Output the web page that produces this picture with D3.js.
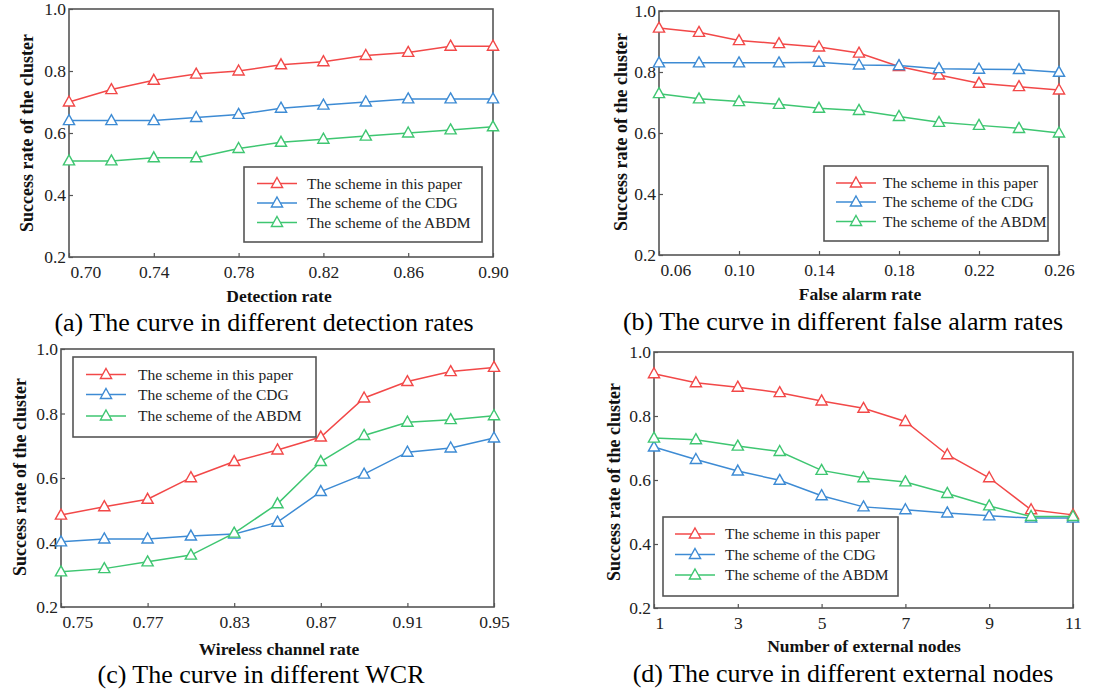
<!DOCTYPE html>
<html lang="en">
<head>
<meta charset="UTF-8">
<title>Success rate of the cluster</title>
<script src="https://cdn.jsdelivr.net/npm/d3@7"></script>
<style>
  body { margin: 0; background: #fff; }
  svg, svg text { font-family: "Liberation Serif", "Times New Roman", serif; }
</style>
</head>
<body>
<div id="chart"></div>
<script>
// series names
const seriesNames = ["The scheme in this paper", "The scheme of the CDG", "The scheme of the ABDM"];
const seriesColors = ["#f24848", "#3d8bd4", "#3ec671"];

// (a) detection rate
const xA = [0.70, 0.72, 0.74, 0.76, 0.78, 0.80, 0.82, 0.84, 0.86, 0.88, 0.90];
const redA = [0.70, 0.74, 0.77, 0.79, 0.80, 0.82, 0.83, 0.85, 0.86, 0.88, 0.88];
const blueA = [0.64, 0.64, 0.64, 0.65, 0.66, 0.68, 0.69, 0.70, 0.71, 0.71, 0.71];
const greenA = [0.51, 0.51, 0.52, 0.52, 0.55, 0.57, 0.58, 0.59, 0.60, 0.61, 0.62];
const ticksA = [0.70, 0.74, 0.78, 0.82, 0.86, 0.90];

// (b) false alarm rate
const xB = [0.06, 0.08, 0.10, 0.12, 0.14, 0.16, 0.18, 0.20, 0.22, 0.24, 0.26];
const redB = [0.944, 0.93, 0.903, 0.893, 0.882, 0.862, 0.818, 0.79, 0.763, 0.752, 0.741];
const blueB = [0.83, 0.83, 0.83, 0.83, 0.832, 0.823, 0.821, 0.811, 0.809, 0.808, 0.799];
const greenB = [0.729, 0.712, 0.703, 0.694, 0.681, 0.674, 0.654, 0.635, 0.625, 0.615, 0.60];
const ticksB = [0.06, 0.10, 0.14, 0.18, 0.22, 0.26];

// (c) wireless channel rate (evenly spaced categories)
const xC = d3.range(11);
const redC = [0.485, 0.511, 0.534, 0.601, 0.651, 0.687, 0.727, 0.848, 0.899, 0.930, 0.943];
const blueC = [0.402, 0.411, 0.411, 0.420, 0.426, 0.463, 0.558, 0.612, 0.680, 0.693, 0.724];
const greenC = [0.309, 0.319, 0.340, 0.361, 0.429, 0.520, 0.651, 0.732, 0.773, 0.781, 0.793];
const ticksC = [0, 2, 4, 6, 8, 10];
const tickLabelsC = ["0.75", "0.77", "0.83", "0.87", "0.91", "0.95"];

// (d) number of external nodes
const xD = [1, 2, 3, 4, 5, 6, 7, 8, 9, 10, 11];
const redD = [0.932, 0.904, 0.890, 0.873, 0.847, 0.824, 0.783, 0.679, 0.607, 0.507, 0.491];
const blueD = [0.703, 0.664, 0.628, 0.599, 0.551, 0.516, 0.507, 0.497, 0.488, 0.481, 0.481];
const greenD = [0.731, 0.726, 0.706, 0.689, 0.630, 0.607, 0.594, 0.558, 0.519, 0.486, 0.486];
const ticksD = [1, 3, 5, 7, 9, 11];

const yTicks = [0.2, 0.4, 0.6, 0.8, 1.0];

const panels = [
  { x: xA, ys: [redA, blueA, greenA], ticks: ticksA, fmt: d3.format(".2f"), domain: [0.70, 0.90],
    box: {l: 69, r: 493, t: 9, b: 257},
    xTitle: "Detection rate", xTitlePos: [279, 302], yTitlePos: [33, 133],
    caption: "(a) The curve in different detection rates", capPos: [264, 331],
    legend: {x: 244, y: 167, w: 238, h: 75, lineX: 257, textX: 307, rows: [183.5, 203, 222.5]} },
  { x: xB, ys: [redB, blueB, greenB], ticks: ticksB, fmt: d3.format(".2f"), domain: [0.06, 0.26],
    box: {l: 659, r: 1059, t: 11, b: 255},
    xTitle: "False alarm rate", xTitlePos: [860, 300], yTitlePos: [627, 132],
    caption: "(b) The curve in different false alarm rates", capPos: [843, 330],
    legend: {x: 824, y: 166, w: 224, h: 75, lineX: 836, textX: 883, rows: [183, 202, 221.5]} },
  { x: xC, ys: [redC, blueC, greenC], ticks: ticksC, fmt: i => tickLabelsC[ticksC.indexOf(i)], domain: [0, 10],
    box: {l: 61, r: 494, t: 349, b: 607},
    xTitle: "Wireless channel rate", xTitlePos: [279, 655], yTitlePos: [26, 477],
    caption: "(c) The curve in different WCR", capPos: [261, 683],
    legend: {x: 73, y: 357, w: 243, h: 80, lineX: 86, textX: 138, rows: [374.5, 394.5, 416]} },
  { x: xD, ys: [redD, blueD, greenD], ticks: ticksD, fmt: d3.format("d"), domain: [1, 11],
    box: {l: 654, r: 1073, t: 352, b: 608},
    xTitle: "Number of external nodes", xTitlePos: [864, 652], yTitlePos: [620, 482],
    caption: "(d) The curve in different external nodes", capPos: [843, 682],
    legend: {x: 663, y: 517, w: 235, h: 79, lineX: 675, textX: 725, rows: [534, 554.5, 575]} }
];

const width = 1104, height = 689;
const frameColor = "#555";
const triangle = "M0,-6L5.6,4L-5.6,4Z";

const svg = d3.select("#chart").append("svg")
  .attr("width", width).attr("height", height);

panels.forEach(function(p) {
  const b = p.box;
  const xScale = d3.scaleLinear().domain(p.domain).range([b.l, b.r]);
  const yScale = d3.scaleLinear().domain([0.2, 1.0]).range([b.b, b.t]);
  const g = svg.append("g");

  // axes with inward ticks
  const xAxis = g.append("g")
    .attr("transform", "translate(0," + b.b + ")")
    .call(d3.axisBottom(xScale).tickValues(p.ticks).tickFormat(p.fmt)
      .tickSizeInner(-4).tickSizeOuter(0).tickPadding(9));
  xAxis.selectAll(".tick text").filter((d, i) => i === 0).attr("text-anchor", "start").attr("x", 1);

  const yAxis = g.append("g")
    .attr("transform", "translate(" + b.l + ",0)")
    .call(d3.axisLeft(yScale).tickValues(yTicks).tickFormat(d3.format(".1f"))
      .tickSizeInner(-4).tickSizeOuter(0).tickPadding(3));

  [xAxis, yAxis].forEach(function(ax) {
    ax.attr("font-family", null).attr("font-size", null);
    ax.select(".domain").remove();
    ax.selectAll(".tick line").attr("stroke", frameColor).attr("stroke-width", 1.2);
    ax.selectAll(".tick text").attr("fill", "#222").style("font-size", "17.5px");
  });

  g.append("rect")
    .attr("x", b.l).attr("y", b.t)
    .attr("width", b.r - b.l).attr("height", b.b - b.t)
    .attr("fill", "none").attr("stroke", frameColor).attr("stroke-width", 1.6);

  // series
  const line = d3.line().x((d, i) => xScale(p.x[i])).y(d => yScale(d));
  p.ys.forEach(function(vals, s) {
    g.append("path").datum(vals)
      .attr("d", line).attr("fill", "none")
      .attr("stroke", seriesColors[s]).attr("stroke-width", 1.5);
    g.selectAll(null).data(vals).enter().append("path")
      .attr("d", triangle)
      .attr("transform", (d, i) => "translate(" + xScale(p.x[i]) + "," + yScale(d) + ")")
      .attr("fill", "#fff").attr("stroke", seriesColors[s]).attr("stroke-width", 1.4);
  });

  // legend
  const lg = p.legend;
  g.append("rect")
    .attr("x", lg.x).attr("y", lg.y).attr("width", lg.w).attr("height", lg.h)
    .attr("fill", "#fff").attr("stroke", frameColor).attr("stroke-width", 1.6);
  seriesNames.forEach(function(name, s) {
    const yy = lg.rows[s];
    g.append("line")
      .attr("x1", lg.lineX).attr("x2", lg.lineX + 40).attr("y1", yy).attr("y2", yy)
      .attr("stroke", seriesColors[s]).attr("stroke-width", 1.5);
    g.append("path").attr("d", triangle)
      .attr("transform", "translate(" + (lg.lineX + 20) + "," + yy + ")")
      .attr("fill", "#fff").attr("stroke", seriesColors[s]).attr("stroke-width", 1.4);
    g.append("text")
      .attr("x", lg.textX).attr("y", yy + 5)
      .style("font-size", "15.5px").attr("fill", "#222")
      .text(name);
  });

  // titles
  g.append("text")
    .attr("x", p.xTitlePos[0]).attr("y", p.xTitlePos[1])
    .attr("text-anchor", "middle")
    .style("font-size", "17.5px").style("font-weight", "bold").attr("fill", "#111")
    .text(p.xTitle);
  g.append("text")
    .attr("transform", "translate(" + p.yTitlePos[0] + "," + p.yTitlePos[1] + ") rotate(-90)")
    .attr("text-anchor", "middle")
    .style("font-size", "18px").style("font-weight", "bold").attr("fill", "#111")
    .text("Success rate of the cluster");
  g.append("text")
    .attr("x", p.capPos[0]).attr("y", p.capPos[1])
    .attr("text-anchor", "middle")
    .style("font-size", "26px").attr("fill", "#000")
    .text(p.caption);
});
</script>
</body>
</html>
